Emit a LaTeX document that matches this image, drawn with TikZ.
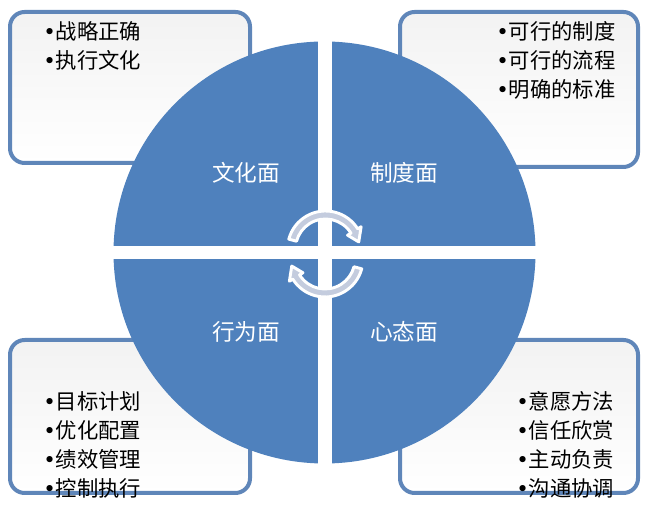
\documentclass[tikz,border=0pt]{standalone}
\usepackage{fontspec}
\newfontfamily\cjk{Noto Sans CJK SC}
\newfontfamily\bulfont{DejaVu Sans}
\newcommand{\bul}{{\bulfont\textbullet}}
\definecolor{faceblue}{HTML}{4F81BD}
\definecolor{rimblue}{HTML}{5F86B9}
\definecolor{turngray}{HTML}{C4CCDE}

\begin{document}
\begin{tikzpicture}[x=0.75pt,y=0.75pt,
    panel/.style={draw=rimblue,line width=3,rounded corners=11,
                  top color=black!5,bottom color=white},
    face/.style={text=white,font=\cjk\fontsize{17}{20}\selectfont},
    items/.style={anchor=north west,inner sep=0,align=left,
                  font=\cjk\fontsize{16}{21.75}\selectfont},
    turn/.style={fill=turngray,draw=white,line width=2.2,line join=round}]
  \useasboundingbox (0,0) rectangle (648,505);

  % corner panels
  \draw[panel] (10,342) rectangle (250,493);
  \draw[panel] (400,338) rectangle (638,493);
  \draw[panel] (10,12) rectangle (250,165);
  \draw[panel] (400,12) rectangle (638,165);

  % the four faces
  \coordinate (c) at (324.5,252.5);
  \fill[faceblue] (c) circle[radius=211];
  \begin{scope}
    \clip (c) circle[radius=212];
    \fill[white] (318,0) rectangle (332,505);
    \fill[white] (0,245.5) rectangle (648,258.5);
  \end{scope}

  \node[face] (wenhua) at (246,332) {文化面};
  \node[face] (zhidu) at (404,332) {制度面};
  \node[face] (xingwei) at (246,173) {行为面};
  \node[face] (xintai) at (404,173) {心态面};

  % turning arrows
  \begin{scope}[shift={(325.5,256)}]
    \filldraw[turn] (165:38) arc[start angle=165,end angle=32,radius=38]
      -- (32:42) -- (12:34) -- (32:26) -- (32:30)
      arc[start angle=32,end angle=165,radius=30] -- cycle;
  \end{scope}
  \begin{scope}[shift={(325,246)},rotate=180]
    \filldraw[turn] (165:38) arc[start angle=165,end angle=32,radius=38]
      -- (32:42) -- (12:34) -- (32:26) -- (32:30)
      arc[start angle=32,end angle=165,radius=30] -- cycle;
  \end{scope}

  % panel texts
  \node[items] (tl) at (43,484) {\bul{}战略正确\\\bul{}执行文化};
  \node[items] (tr) at (496,484) {\bul{}可行的制度\\\bul{}可行的流程\\\bul{}明确的标准};
  \node[items] (bl) at (43,114) {\bul{}目标计划\\\bul{}优化配置\\\bul{}绩效管理\\\bul{}控制执行};
  \node[items] (br) at (516,114) {\bul{}意愿方法\\\bul{}信任欣赏\\\bul{}主动负责\\\bul{}沟通协调};
\end{tikzpicture}
\end{document}
